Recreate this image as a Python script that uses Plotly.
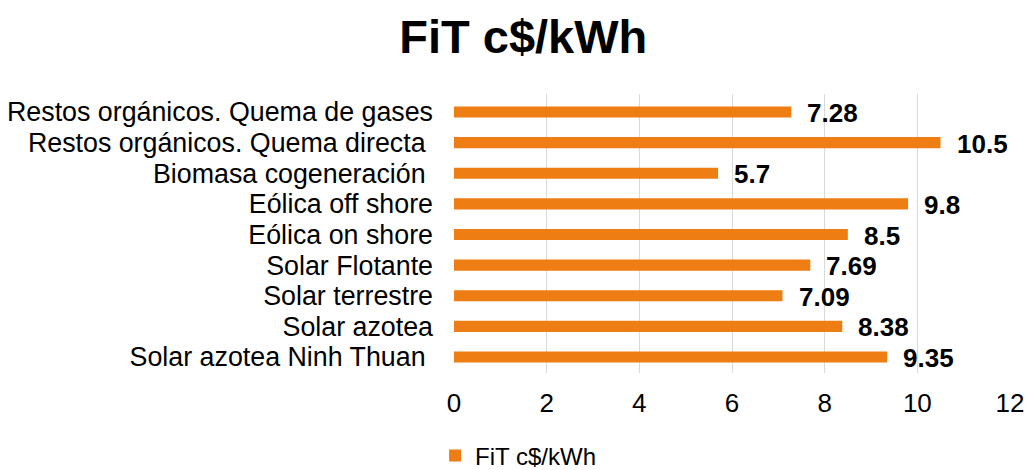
import plotly.graph_objects as go

categories = [
    "Restos orgánicos. Quema de gases",
    "Restos orgánicos. Quema directa\u00a0",
    "Biomasa cogeneración\u00a0",
    "Eólica off shore",
    "Eólica on shore",
    "Solar Flotante",
    "Solar terrestre",
    "Solar azotea",
    "Solar azotea Ninh Thuan\u00a0",
]
values = [7.28, 10.5, 5.7, 9.8, 8.5, 7.69, 7.09, 8.38, 9.35]
value_labels = ["7.28", "10.5", "5.7", "9.8", "8.5", "7.69", "7.09", "8.38", "9.35"]
series_name = "FiT c$/kWh"
x_ticks = [0, 2, 4, 6, 8, 10, 12]

ORANGE = "#EE7D13"
FONT = "Liberation Sans, Arial, sans-serif"

fig = go.Figure()
fig.add_trace(go.Bar(
    x=values, y=categories, orientation="h", name=series_name,
    marker=dict(color=ORANGE, line=dict(width=0)), width=0.36,
    showlegend=True,
))

for v, c, t in zip(values, categories, value_labels):
    fig.add_annotation(
        x=v, y=c, text=f"<b>{t}</b>", showarrow=False,
        xanchor="left", yanchor="middle", xshift=14, yshift=-1,
        font=dict(family=FONT, size=26, color="#000000"),
    )

fig.update_layout(
    width=1026, height=470,
    margin=dict(l=454, r=16, t=94, b=97, autoexpand=False),
    paper_bgcolor="white", plot_bgcolor="white",
    title=dict(text="<b>FiT c$/kWh</b>", x=0.51, xanchor="center",
               y=1 - 37 / 470, yanchor="middle", automargin=False,
               font=dict(family=FONT, size=47, color="#000000")),
    font=dict(family=FONT, size=26, color="#000000"),
    xaxis=dict(range=[0, 12], tickmode="array", tickvals=x_ticks, showgrid=True,
               gridcolor="#D9D9D9", gridwidth=1.3, zeroline=False,
               showline=False, ticks="", ticklabelstandoff=12, automargin=False,
               tickfont=dict(family=FONT, size=26, color="#000000")),
    yaxis=dict(autorange="reversed", tickmode="array", tickvals=categories,
               showgrid=False, showline=False,
               ticks="", ticklabelstandoff=20, automargin=False,
               tickfont=dict(family=FONT, size=26.8, color="#000000")),
    legend=dict(orientation="h", x=-0.034, xanchor="left",
                yref="container", y=(470 - 456) / 470,
                yanchor="middle", font=dict(family=FONT, size=24, color="#000000"),
                itemwidth=30),
)

fig.write_html("out.html",
               config={"displayModeBar": False},
               post_script="document.body.style.margin='0';document.body.style.overflow='hidden';")
